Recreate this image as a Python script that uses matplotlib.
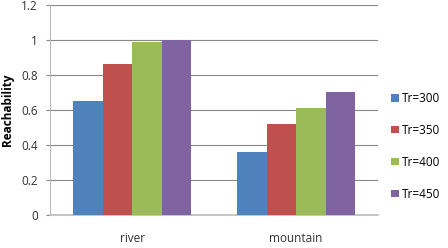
import numpy as np
import matplotlib
matplotlib.use("Agg")
import matplotlib.pyplot as plt

categories = ["river", "mountain"]
series = ["Tr=300", "Tr=350", "Tr=400", "Tr=450"]
values = {
    "Tr=300": [0.65, 0.36],
    "Tr=350": [0.86, 0.52],
    "Tr=400": [0.99, 0.61],
    "Tr=450": [1.00, 0.70],
}
colors = ["#4F81BD", "#C0504D", "#9BBB59", "#8064A2"]

plt.rcParams["font.family"] = ["Open Sans", "DejaVu Sans"]

fig = plt.figure(figsize=(4.48, 2.48), dpi=100)
ax = fig.add_axes([0.112, 0.133, 0.732, 0.847])

x = np.arange(len(categories))
w = 0.18
for i, (name, c) in enumerate(zip(series, colors)):
    ax.bar(x + (i - 1.5) * w, values[name], w, color=c, label=name, zorder=3)

ax.set_xlim(-0.5, 1.5)
ax.set_ylim(0, 1.2)
ax.set_yticks(np.arange(0, 1.21, 0.2))
ax.set_yticklabels(["0", "0.2", "0.4", "0.6", "0.8", "1", "1.2"], fontsize=8.5, color="#333333")
ax.set_xticks(x)
ax.set_xticklabels(categories, fontsize=8.5, color="#333333")
ax.tick_params(axis="x", length=0, pad=12)
ax.tick_params(axis="y", length=3, color="#888888", pad=6)
ax.grid(True, axis="y", color="#888888", linewidth=0.8, zorder=0)
for s in ["top", "right"]:
    ax.spines[s].set_visible(False)
ax.spines["left"].set_color("#bbbbbb")
ax.spines["bottom"].set_color("#bbbbbb")
ax.spines["bottom"].set_linewidth(1.2)
ax.set_ylabel("Reachability", fontsize=8.5, fontweight="bold", labelpad=5)

leg = fig.legend(loc="center left", bbox_to_anchor=(0.85, 0.41), frameon=False,
                 fontsize=8.5, handlelength=0.6, handleheight=0.6,
                 labelspacing=1.6, handletextpad=0.3)

fig.savefig("out.png", dpi=100)
